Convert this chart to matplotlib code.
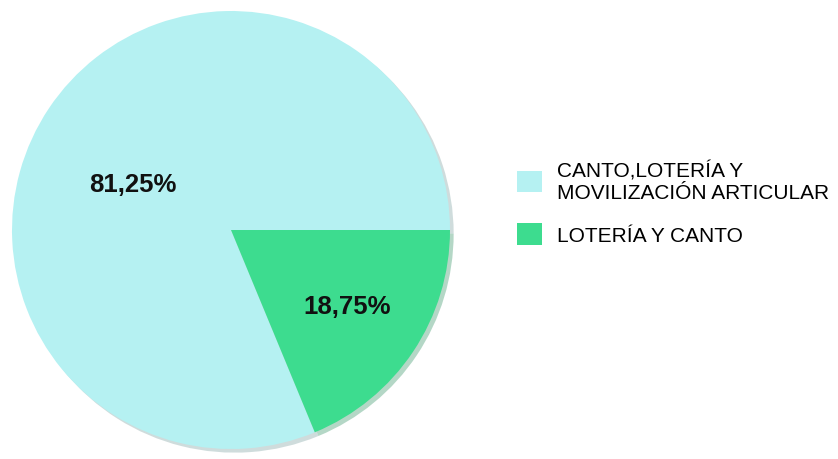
import matplotlib.pyplot as plt

plt.rcParams['font.family'] = ['Liberation Sans', 'DejaVu Sans']

labels = ["CANTO,LOTERÍA Y\nMOVILIZACIÓN ARTICULAR", "LOTERÍA Y CANTO"]
values = [81.25, 18.75]
colors = ["#b5f1f2", "#3ddc8f"]

fig = plt.figure(figsize=(8.38, 4.6), dpi=100)
ax = fig.add_axes([12/838, 10/460, 438/838, 438/460])

wedges, texts, autotexts = ax.pie(
    values, colors=colors, startangle=0, counterclock=True,
    autopct=lambda p: f"{p:.2f}%".replace(".", ","),
    shadow={'ox': 0.012, 'oy': -0.012, 'shade': 0.35, 'alpha': 0.35},
    wedgeprops={'linewidth': 0},
    textprops={'fontsize': 18.5, 'fontweight': 'bold', 'color': '#111111'})

# percent labels sit where the reference has them
autotexts[0].set_position((-0.447, 0.21))
autotexts[1].set_position((0.53, -0.347))

ax.set_xlim(-1, 1)
ax.set_ylim(-1, 1)
ax.set_aspect('equal')

fig.legend(wedges, labels, loc='upper left', bbox_to_anchor=(0.594, 0.69),
           frameon=False, fontsize=15, handlelength=1.2, handleheight=1.2,
           handletextpad=0.75, labelspacing=1.0)

fig.savefig("out.png", dpi=100)
